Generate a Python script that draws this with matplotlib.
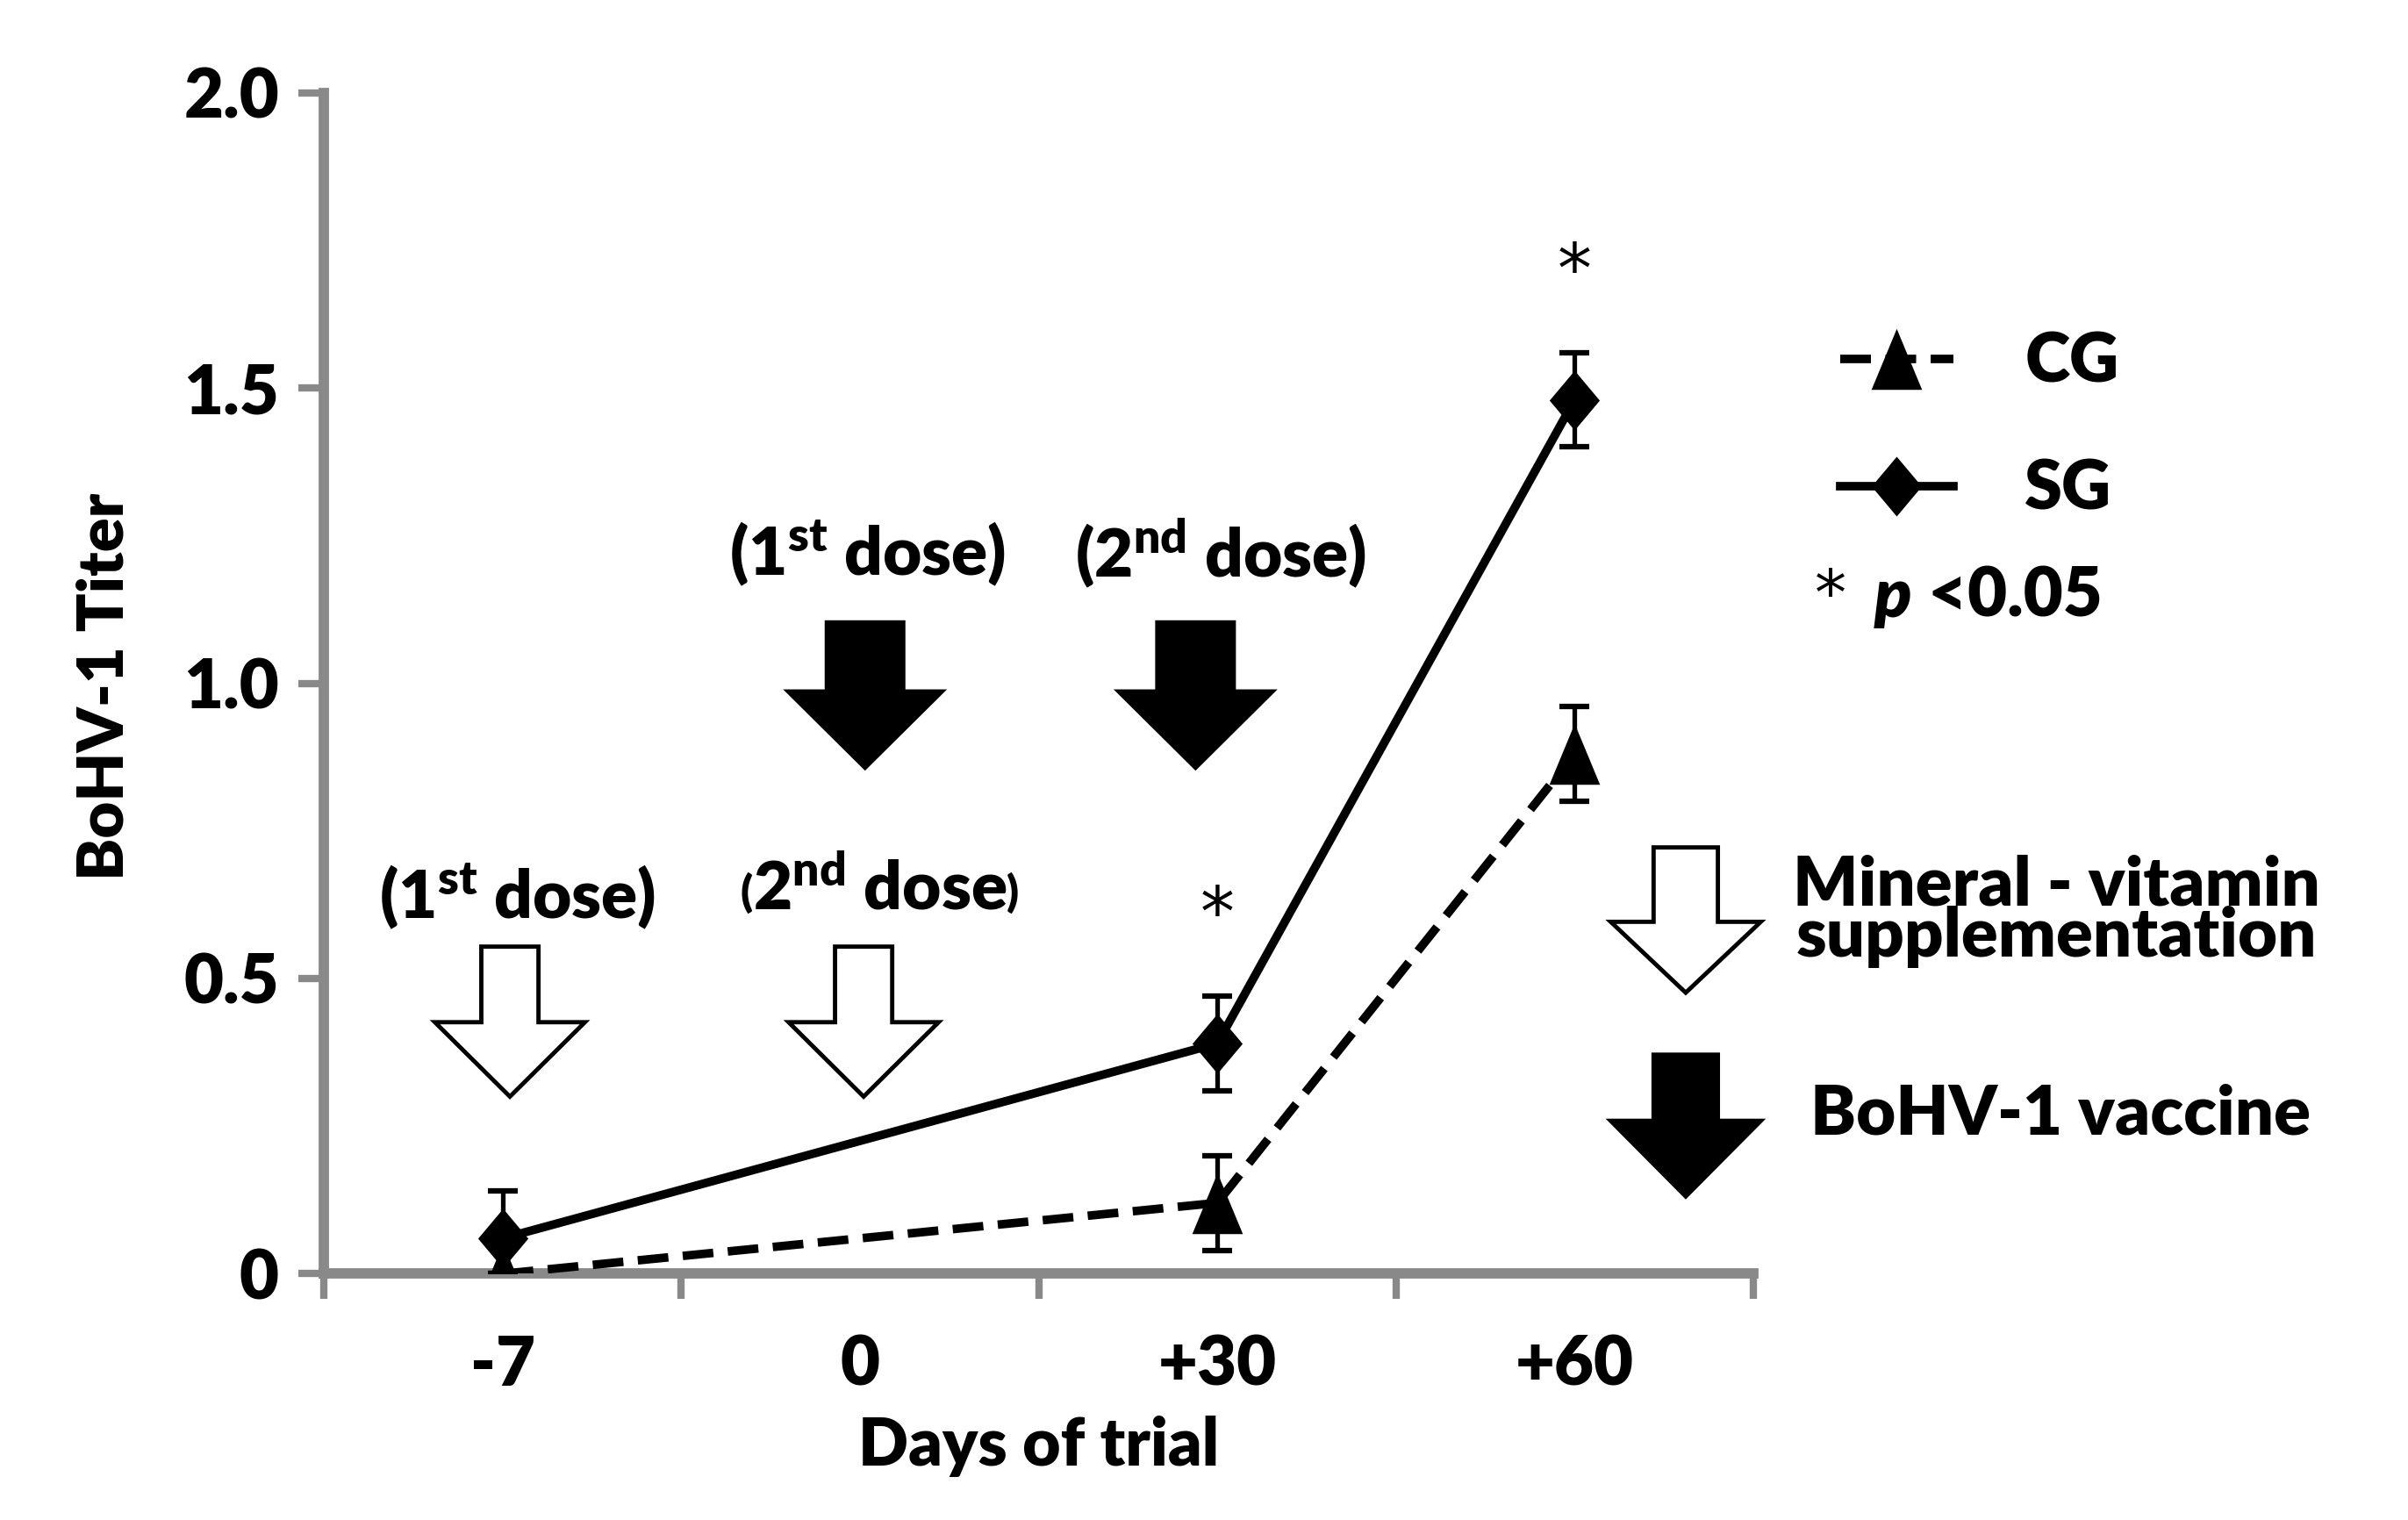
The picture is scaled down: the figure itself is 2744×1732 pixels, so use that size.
import numpy as np
import matplotlib.pyplot as plt
from matplotlib.patches import Polygon

# data
categories = ['-7', '0', '+30', '+60']
sample_days = ['-7', '+30', '+60']
cg_titer = [0.0, 0.12, 0.88]
cg_err = [0.0, 0.08, 0.08]
sg_titer = [0.06, 0.39, 1.48]
sg_err = [0.08, 0.08, 0.08]
significant_days = ['+30', '+60']
y_ticks = [0, 0.5, 1.0, 1.5, 2.0]
y_tick_labels = ['0', '0.5', '1.0', '1.5', '2.0']

W = 'heavy'
plt.rcParams['font.family'] = ['Lato', 'DejaVu Sans']
plt.rcParams['font.weight'] = W
plt.rcParams['mathtext.fontset'] = 'custom'
plt.rcParams['mathtext.rm'] = 'Lato:heavy'
plt.rcParams['mathtext.bf'] = 'Lato:heavy'
plt.rcParams['mathtext.it'] = 'Lato:heavy:italic'

GREY = '#898989'
FS = 56

diamond = [(0, 1), (0.84, 0), (0, -1), (-0.84, 0)]
triangle = [(0, 1), (0.83, -1), (-0.83, -1)]


def block_arrow(ax, xc, y_top, y_base, y_tip, half_shaft, half_head, filled):
    """Draw a big down arrow (block style) in data coords."""
    pts = [(xc - half_shaft, y_top), (xc + half_shaft, y_top),
           (xc + half_shaft, y_base), (xc + half_head, y_base),
           (xc, y_tip), (xc - half_head, y_base), (xc - half_shaft, y_base)]
    ax.add_patch(Polygon(pts, closed=True, facecolor='black' if filled else 'white',
                         edgecolor='black', linewidth=3.5, joinstyle='miter',
                         clip_on=False, zorder=5))


fig = plt.figure(figsize=(27.44, 17.32), dpi=100)
ax = fig.add_axes([0.1346, 0.162, 0.5935, 0.777])

x = [categories.index(d) + 1 for d in sample_days]

ax.errorbar(x, sg_titer, yerr=sg_err, fmt='none', ecolor='black', elinewidth=3.8,
            capsize=12.5, capthick=4.5, zorder=3)
ax.errorbar(x, cg_titer, yerr=cg_err, fmt='none', ecolor='black', elinewidth=3.8,
            capsize=12.5, capthick=4.5, zorder=3)
sg_line, = ax.plot(x, sg_titer, color='black', linewidth=7, marker=diamond,
                   markersize=49, markeredgewidth=0, label='SG', zorder=4)
cg_line, = ax.plot(x, cg_titer, color='black', linewidth=7, linestyle=(0, (3.6, 1.7)),
                   marker=triangle, markersize=50, markeredgewidth=0, label='CG', zorder=4)

# significance stars
for d in significant_days:
    i = sample_days.index(d)
    ax.text(x[i], sg_titer[i] + sg_err[i] + 0.135, '*', fontsize=56, fontweight='normal',
            family='DejaVu Sans', ha='center', va='center')

ax.set_xlim(0.5, 4.5)
ax.set_ylim(0, 2.0)
ax.set_xticks(range(1, len(categories) + 1))
ax.set_xticklabels(categories)
ax.set_xticks(np.arange(0.5, len(categories) + 1, 1), minor=True)
ax.tick_params(axis='x', which='major', length=0, pad=50, labelsize=FS)
ax.tick_params(axis='x', which='minor', length=21, width=6, color=GREY, direction='out')
ax.set_yticks(y_ticks)
ax.set_yticklabels(y_tick_labels)
ax.tick_params(axis='y', length=21, width=6, color=GREY, pad=16, labelsize=FS)

for s in ['top', 'right']:
    ax.spines[s].set_visible(False)
for s in ['left', 'bottom']:
    ax.spines[s].set_color(GREY)
    ax.spines[s].set_linewidth(8.5)

ax.set_xlabel('Days of trial', fontsize=54, fontweight=W)
ax.xaxis.set_label_coords(0.5, -0.12)
ax.set_ylabel('BoHV-1 Titer', fontsize=52, fontweight=W)
ax.yaxis.set_label_coords(-0.133, 0.497)

# supplementation (white) and vaccine (black) arrows
block_arrow(ax, 1.02, 0.554, 0.426, 0.30, 0.08, 0.21, False)
block_arrow(ax, 2.01, 0.554, 0.426, 0.30, 0.08, 0.21, False)
block_arrow(ax, 2.014, 1.103, 0.986, 0.857, 0.107, 0.215, True)
block_arrow(ax, 2.939, 1.103, 0.986, 0.857, 0.107, 0.215, True)
block_arrow(ax, 4.311, 0.722, 0.596, 0.476, 0.09, 0.21, False)
block_arrow(ax, 4.311, 0.371, 0.259, 0.131, 0.09, 0.21, True)

ax.text(1.04, 0.64, r'(1$^{\mathbf{st}}$ dose)', fontsize=55, ha='center', va='center')
ax.text(2.02, 1.22, r'(1$^{\mathbf{st}}$ dose)', fontsize=55, ha='center', va='center')
ax.text(3.01, 1.22, r'(2$^{\mathbf{nd}}$ dose)', fontsize=55, ha='center', va='center')
mid = ax.text(2.055, 0.65, r'2$^{\mathbf{nd}}$ dose', fontsize=55, ha='center', va='center')
ax.annotate('(', xy=(0, 0.12), xycoords=mid, fontsize=36, ha='right', va='bottom')
ax.annotate(')', xy=(1, 0.12), xycoords=mid, fontsize=36, ha='left', va='bottom')

# legend
ax.legend(handles=[cg_line, sg_line], labels=['CG', 'SG'], loc='center left',
          bbox_to_anchor=(1.061, 0.7175), frameon=False, fontsize=FS,
          handlelength=1.65, handletextpad=1.05, labelspacing=0.95,
          borderpad=0, borderaxespad=0)

star = ax.text(1.043, 0.573, '*', transform=ax.transAxes, fontsize=52, fontweight='normal',
               family='DejaVu Sans', ha='left', va='center')
p_txt = ax.annotate('  p', xy=(1, 0.5), xycoords=star, fontsize=FS, fontstyle='italic',
                    fontweight=W, ha='left', va='center')
ax.annotate(' <0.05', xy=(1, 0.5), xycoords=p_txt, fontsize=FS, fontweight=W,
            ha='left', va='center')

ax.text(1.212, 0.307, 'Mineral - vitamin\nsupplementation', transform=ax.transAxes,
        fontsize=FS, ha='center', va='center', multialignment='center', linespacing=0.78)
ax.text(1.215, 0.135, 'BoHV-1 vaccine', transform=ax.transAxes, fontsize=FS,
        ha='center', va='center')

fig.savefig('out.png', dpi=100, facecolor='white')
